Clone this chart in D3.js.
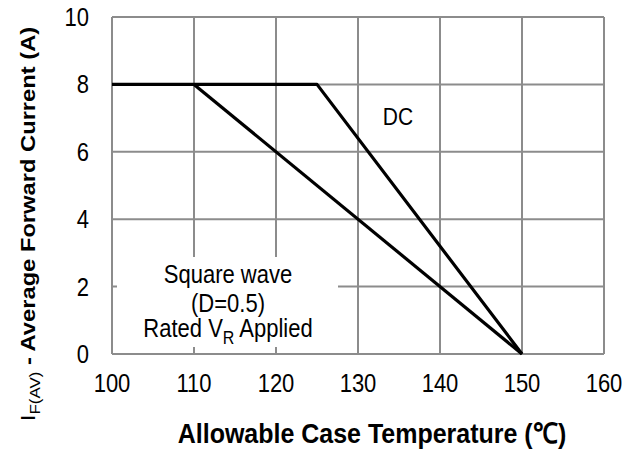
<!DOCTYPE html>
<html>
<head>
<meta charset="utf-8">
<script src="https://cdn.jsdelivr.net/npm/d3@7"></script>
<style>
  body { margin: 0; background: #fff; }
  text { font-family: "Liberation Sans", Arial, sans-serif; }
</style>
</head>
<body>
<svg width="640" height="453"></svg>
<script>
const svg = d3.select("svg");

// data
const xTicks = [100, 110, 120, 130, 140, 150, 160];
const yTicks = [0, 2, 4, 6, 8, 10];
const dcTemp = [100, 125, 150];
const dcCurrent = [8, 8, 0];
const sqTemp = [110, 150];
const sqCurrent = [8, 0];

const x = d3.scaleLinear().domain([100, 160]).range([112, 604]);
const y = d3.scaleLinear().domain([0, 10]).range([354, 17]);

const grid = "#8c8c8c";
const stretch = 1.13; // source text is a bit taller than normal

// place text with a slight vertical stretch
function put(sel, px, py) {
  return sel.attr("transform", `translate(${px},${py}) scale(1,${stretch})`);
}

// grid
svg.append("g").selectAll("line").data(xTicks).join("line")
  .attr("x1", d => x(d)).attr("x2", d => x(d))
  .attr("y1", y(0)).attr("y2", y(10))
  .attr("stroke", grid).attr("stroke-width", 2);
svg.append("g").selectAll("line").data(yTicks).join("line")
  .attr("x1", x(100)).attr("x2", x(160))
  .attr("y1", d => y(d)).attr("y2", d => y(d))
  .attr("stroke", grid).attr("stroke-width", 2);

// white box behind the note (hides grid, leaves small ticks)
svg.append("rect")
  .attr("x", x(100) + 5).attr("y", 257)
  .attr("width", 338 - x(100) - 5).attr("height", 347 - 257)
  .attr("fill", "#fff");

// border redraw
svg.append("line").attr("x1", x(100)).attr("x2", x(100)).attr("y1", y(0)).attr("y2", y(10))
  .attr("stroke", grid).attr("stroke-width", 2);
svg.append("line").attr("x1", x(100)).attr("x2", x(160)).attr("y1", y(0)).attr("y2", y(0))
  .attr("stroke", grid).attr("stroke-width", 2);

// curves
const line = d3.line().x(d => x(d[0])).y(d => y(d[1]));
svg.append("path")
  .attr("d", line(d3.zip(dcTemp, dcCurrent)))
  .attr("fill", "none").attr("stroke", "#000").attr("stroke-width", 3.2)
  .attr("stroke-linejoin", "round");
svg.append("path")
  .attr("d", line(d3.zip(sqTemp, sqCurrent)))
  .attr("fill", "none").attr("stroke", "#000").attr("stroke-width", 3.2)
  .attr("stroke-linejoin", "round");

// tick labels
svg.append("g").selectAll("text").data(xTicks).join("text")
  .each(function(d) { put(d3.select(this), x(d), 392); })
  .attr("text-anchor", "middle").attr("font-size", 22)
  .text(d => d);
svg.append("g").selectAll("text").data(yTicks).join("text")
  .each(function(d) { put(d3.select(this), 89, y(d) + 9); })
  .attr("text-anchor", "end").attr("font-size", 22)
  .text(d => d);

// annotations
put(svg.append("text"), 398, 125)
  .attr("text-anchor", "middle").attr("font-size", 21).text("DC");

const notes = [["Square wave", 283], ["(D=0.5)", 312]];
notes.forEach(([t, py]) => {
  put(svg.append("text"), 228, py)
    .attr("text-anchor", "middle").attr("font-size", 22).text(t);
});
const l3 = put(svg.append("text"), 228, 337)
  .attr("text-anchor", "middle").attr("font-size", 22);
l3.append("tspan").text("Rated V");
l3.append("tspan").attr("font-size", 16).attr("dy", 6).text("R");
l3.append("tspan").attr("dy", -6).text(" Applied");

// axis titles
put(svg.append("text"), 372, 443)
  .attr("text-anchor", "middle").attr("font-size", 25).attr("font-weight", "bold")
  .text("Allowable Case Temperature (℃)");

const yt = svg.append("text")
  .attr("transform", `translate(35,224) rotate(-90) scale(${stretch},1)`)
  .attr("text-anchor", "middle").attr("font-size", 21).attr("font-weight", "bold");
yt.append("tspan").attr("font-weight", "normal").text("I");
yt.append("tspan").attr("font-weight", "normal").attr("font-size", 15).attr("dy", 5).text("F(AV)");
yt.append("tspan").attr("dy", -5).text(" - Average Forward Current (A)");
</script>
</body>
</html>
